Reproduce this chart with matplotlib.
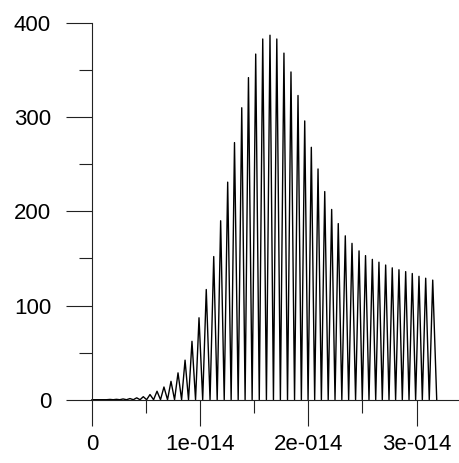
import numpy as np
import matplotlib
matplotlib.use('Agg')
import matplotlib.pyplot as plt
from matplotlib.ticker import FixedLocator, FixedFormatter

# peak positions (units of 1e-14) and peak heights
peak_t = [0.166, 0.226, 0.287, 0.351, 0.413, 0.474, 0.536, 0.601, 0.665, 0.730,
          0.795, 0.860, 0.924, 0.989, 1.056, 1.125, 1.189, 1.254, 1.317, 1.384,
          1.446, 1.513, 1.578, 1.645, 1.708, 1.774, 1.839, 1.904, 1.966, 2.027,
          2.089, 2.151, 2.215, 2.276, 2.341, 2.403, 2.468, 2.528, 2.591, 2.652,
          2.714, 2.775, 2.837, 2.899, 2.960, 3.022, 3.084, 3.149]
peak_v = [0.3, 0.4, 0.8, 1.2, 2.0, 3.2, 5.5, 9.0, 13.5, 19.5,
          28.5, 42, 62, 87, 117, 152, 190, 231, 273, 310,
          342, 367, 383, 387, 383, 368, 348, 323, 296, 268,
          245, 221, 202, 187, 174, 166, 158, 153, 149, 146,
          143, 140, 138, 136, 134, 131, 129, 127]

# minima (value 0) between the peaks, plus start and end of the trace
trough_t = [0.0, 0.135, 0.196, 0.257, 0.319, 0.382, 0.444, 0.505, 0.569, 0.633,
            0.698, 0.763, 0.828, 0.892, 0.957, 1.023, 1.091, 1.157, 1.222, 1.286,
            1.351, 1.415, 1.480, 1.546, 1.612, 1.677, 1.741, 1.807, 1.872, 1.935,
            1.997, 2.058, 2.120, 2.183, 2.246, 2.309, 2.372, 2.436, 2.498, 2.560,
            2.622, 2.683, 2.745, 2.806, 2.868, 2.930, 2.991, 3.053, 3.117, 3.186]

x_ticks = [0, 1e-14, 2e-14, 3e-14]
x_labels = ['0', '1e-014', '2e-014', '3e-014']
y_ticks = [0, 100, 200, 300, 400]

plt.rcParams['font.family'] = ['Liberation Sans', 'DejaVu Sans']

t = np.concatenate([peak_t, trough_t]) * 1e-14
v = np.concatenate([peak_v, np.zeros(len(trough_t))])
order = np.argsort(t)

fig = plt.figure(figsize=(4.59, 4.63), dpi=100)
ax = fig.add_axes([0, 0, 1, 1])
ax.plot(t[order], v[order], color='black', linewidth=1.0)

ax.set_xlim(-0.8503e-14, 3.3919e-14)
ax.set_ylim(-67.2, 424.4)

for side in ['top', 'right']:
    ax.spines[side].set_visible(False)
ax.spines['left'].set_position(('data', 0))
ax.spines['bottom'].set_position(('data', 0))
ax.spines['left'].set_bounds(0, 400)
ax.spines['bottom'].set_bounds(0, 3.3826e-14)
for side in ['left', 'bottom']:
    ax.spines[side].set_linewidth(0.8)
    ax.spines[side].set_color('#222222')

ax.xaxis.set_major_locator(FixedLocator(x_ticks))
ax.xaxis.set_major_formatter(FixedFormatter(x_labels))
ax.xaxis.set_minor_locator(FixedLocator([0.5e-14, 1.5e-14, 2.5e-14]))
ax.yaxis.set_major_locator(FixedLocator(y_ticks))
ax.yaxis.set_minor_locator(FixedLocator([50, 150, 250, 350]))

ax.tick_params(axis='both', which='major', direction='out', length=19,
               width=0.8, color='#222222', labelsize=16)
ax.tick_params(axis='both', which='minor', direction='out', length=9.4,
               width=0.8, color='#222222')
ax.tick_params(axis='y', which='major', pad=10.5)
ax.tick_params(axis='x', which='major', pad=6)
ax.patch.set_visible(False)

fig.savefig('out.png', dpi=100)
